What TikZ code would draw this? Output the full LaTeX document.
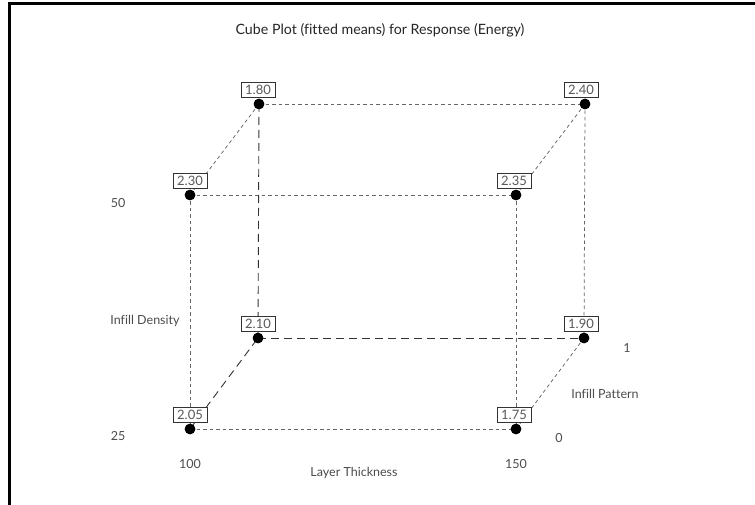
\documentclass[tikz,border=0pt]{standalone}
\usepackage{fontspec}
\setmainfont{Lato}[Ligatures={NoCommon}]
\begin{document}
\begin{tikzpicture}[x=1pt,y=-1pt,
  pt/.style={circle,fill=black,inner sep=0pt,minimum size=10.5pt},
  val/.style={draw=black!80,line width=0.7pt,fill=white,inner sep=0pt,minimum width=34pt,minimum height=15pt,font=\fontsize{13}{13}\selectfont,text=black!65},
  fine/.style={draw=black!60,line width=0.75pt,dash pattern=on 3.5pt off 3pt},
  longd/.style={draw=black!80,line width=0.9pt,dash pattern=on 8pt off 5pt},
  lab/.style={font=\fontsize{12.5}{13}\selectfont,text=black!70,inner sep=0pt}]
\useasboundingbox (0,0) rectangle (755,505);
\fill[white] (0,0) rectangle (755,505);
\draw[line width=3pt] (9,505) -- (9,3.5) -- (755,3.5);
\node[font=\fontsize{14.2}{16}\selectfont,text=black!85] (title) at (380,30) {Cube Plot (fitted means) for Response (Energy)};
% points
\node[pt] (p180) at (259,104) {};
\node[pt] (p240) at (585,104) {};
\node[pt] (p230) at (190,195) {};
\node[pt] (p235) at (516,195) {};
\node[pt] (p210) at (258,338) {};
\node[pt] (p190) at (584,338) {};
\node[pt] (p205) at (190,429) {};
\node[pt] (p175) at (516,429) {};
% edges
\draw[fine] (p230.center) -- (p235.center);
\draw[fine] (p205.center) -- (p175.center);
\draw[fine] (p230.center) -- (p205.center);
\draw[fine] (p235.center) -- (p175.center);
\draw[fine] (p180.center) -- (p240.center);
\draw[fine] (p240.center) -- (p190.center);
\draw[fine] (p230.center) -- (p180.center);
\draw[fine] (p235.center) -- (p240.center);
\draw[fine] (p175.center) -- (p190.center);
\draw[longd] (p180.center) -- (p210.center);
\draw[longd] (p210.center) -- (p190.center);
\draw[longd] (p205.center) -- (p210.center);
% redraw points on top
\foreach \n in {p180,p240,p230,p235,p210,p190,p205,p175} \fill (\n) circle (5.3pt);
% values
\node[val] (v180) at (258,90) {1.80};
\node[val] (v240) at (581,90) {2.40};
\node[val] (v230) at (190,181) {2.30};
\node[val] (v235) at (514,181) {2.35};
\node[val] (v210) at (258,324) {2.10};
\node[val] (v190) at (581,324) {1.90};
\node[val] (v205) at (190,415) {2.05};
\node[val] (v175) at (514,415) {1.75};
% axis labels
\node[lab] (d50) at (118,203) {50};
\node[lab] (d25) at (118,436) {25};
\node[lab] (dens) at (145,321) {Infill Density};
\node[lab] (t100) at (190,464) {100};
\node[lab] (t150) at (516,464) {150};
\node[lab] (thick) at (354,473) {Layer Thickness};
\node[lab] (patt) at (605,394) {Infill Pattern};
\node[lab] (pat1) at (627,348) {1};
\node[lab] (pat0) at (559,438) {0};
\end{tikzpicture}
\end{document}
